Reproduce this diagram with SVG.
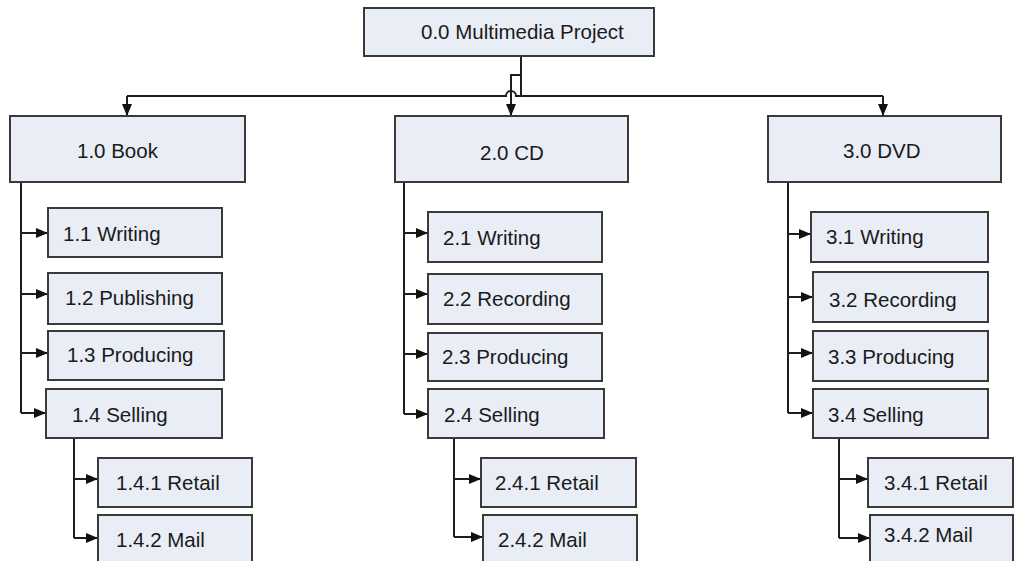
<svg xmlns="http://www.w3.org/2000/svg" width="1015" height="561" viewBox="0 0 1015 561">
<style>
.box{fill:#e8edf6;stroke:#3a3a3a;stroke-width:2}
.lbl{font-family:"Liberation Sans",Arial,sans-serif;font-size:20.5px;fill:#1a1a1a}
.ln{fill:none;stroke:#1e1e1e;stroke-width:2}
.ar{fill:none;stroke:#1e1e1e;stroke-width:2;marker-end:url(#ah)}
</style>
<defs>
<marker id="ah" markerUnits="userSpaceOnUse" markerWidth="12" markerHeight="10" refX="12" refY="5" orient="auto">
<path d="M0,0 L12,5 L0,10 z" fill="#111"/>
</marker>
</defs>
<rect width="1015" height="561" fill="#fff"/>
<g id="connectors">
<path class="ln" d="M521,56 V96"/>
<path class="ln" d="M127,96 H506 A5,5 0 0 1 516,96 H883"/>
<path class="ar" d="M521,75 H511 V116"/>
<path class="ar" d="M127,96 V116"/>
<path class="ar" d="M883,96 V116"/>
<path class="ln" d="M21,182 V413"/>
<path class="ar" d="M21,233 H48"/>
<path class="ar" d="M21,294 H48"/>
<path class="ar" d="M21,353 H48"/>
<path class="ar" d="M21,413 H46"/>
<path class="ln" d="M74,438 V538"/>
<path class="ar" d="M74,479 H98"/>
<path class="ar" d="M74,538 H98"/>
<path class="ln" d="M404,182 V414"/>
<path class="ar" d="M404,233 H428"/>
<path class="ar" d="M404,294 H428"/>
<path class="ar" d="M404,354 H428"/>
<path class="ar" d="M404,414 H428"/>
<path class="ln" d="M454,438 V537"/>
<path class="ar" d="M454,479 H481"/>
<path class="ar" d="M454,537 H483"/>
<path class="ln" d="M788,182 V413"/>
<path class="ar" d="M788,234 H811"/>
<path class="ar" d="M788,297 H813"/>
<path class="ar" d="M788,353 H813"/>
<path class="ar" d="M788,413 H813"/>
<path class="ln" d="M839,438 V538"/>
<path class="ar" d="M839,479 H868"/>
<path class="ar" d="M839,538 H870"/>
</g>
<g id="n0"><rect class="box" x="364" y="8" width="290" height="48"/><text class="lbl" x="421" y="39">0.0 Multimedia Project</text></g>
<g id="n1"><rect class="box" x="10" y="116" width="235" height="66"/><text class="lbl" x="77" y="158">1.0 Book</text></g>
<g id="n11"><rect class="box" x="48" y="208" width="174" height="49"/><text class="lbl" x="63" y="241">1.1 Writing</text></g>
<g id="n12"><rect class="box" x="48" y="273" width="174" height="51"/><text class="lbl" x="65" y="305">1.2 Publishing</text></g>
<g id="n13"><rect class="box" x="48" y="331" width="176" height="49"/><text class="lbl" x="67" y="362">1.3 Producing</text></g>
<g id="n14"><rect class="box" x="46" y="389" width="176" height="49"/><text class="lbl" x="72" y="422">1.4 Selling</text></g>
<g id="n141"><rect class="box" x="98" y="458" width="154" height="49"/><text class="lbl" x="116" y="490">1.4.1 Retail</text></g>
<g id="n142"><rect class="box" x="98" y="515" width="154" height="56"/><text class="lbl" x="116" y="547">1.4.2 Mail</text></g>
<g id="n2"><rect class="box" x="395" y="116" width="233" height="66"/><text class="lbl" x="480" y="160">2.0 CD</text></g>
<g id="n21"><rect class="box" x="428" y="212" width="174" height="50"/><text class="lbl" x="443" y="245">2.1 Writing</text></g>
<g id="n22"><rect class="box" x="428" y="274" width="174" height="50"/><text class="lbl" x="443" y="306">2.2 Recording</text></g>
<g id="n23"><rect class="box" x="428" y="333" width="174" height="48"/><text class="lbl" x="442" y="364">2.3 Producing</text></g>
<g id="n24"><rect class="box" x="428" y="389" width="176" height="49"/><text class="lbl" x="444" y="422">2.4 Selling</text></g>
<g id="n241"><rect class="box" x="481" y="458" width="155" height="49"/><text class="lbl" x="495" y="490">2.4.1 Retail</text></g>
<g id="n242"><rect class="box" x="483" y="515" width="154" height="56"/><text class="lbl" x="498" y="547">2.4.2 Mail</text></g>
<g id="n3"><rect class="box" x="768" y="116" width="233" height="66"/><text class="lbl" x="843" y="158">3.0 DVD</text></g>
<g id="n31"><rect class="box" x="811" y="212" width="177" height="50"/><text class="lbl" x="826" y="244">3.1 Writing</text></g>
<g id="n32"><rect class="box" x="813" y="272" width="175" height="50"/><text class="lbl" x="829" y="307">3.2 Recording</text></g>
<g id="n33"><rect class="box" x="813" y="331" width="175" height="50"/><text class="lbl" x="828" y="364">3.3 Producing</text></g>
<g id="n34"><rect class="box" x="813" y="389" width="175" height="49"/><text class="lbl" x="828" y="422">3.4 Selling</text></g>
<g id="n341"><rect class="box" x="868" y="458" width="145" height="49"/><text class="lbl" x="884" y="490">3.4.1 Retail</text></g>
<g id="n342"><rect class="box" x="870" y="515" width="143" height="56"/><text class="lbl" x="884" y="542">3.4.2 Mail</text></g>
</svg>
